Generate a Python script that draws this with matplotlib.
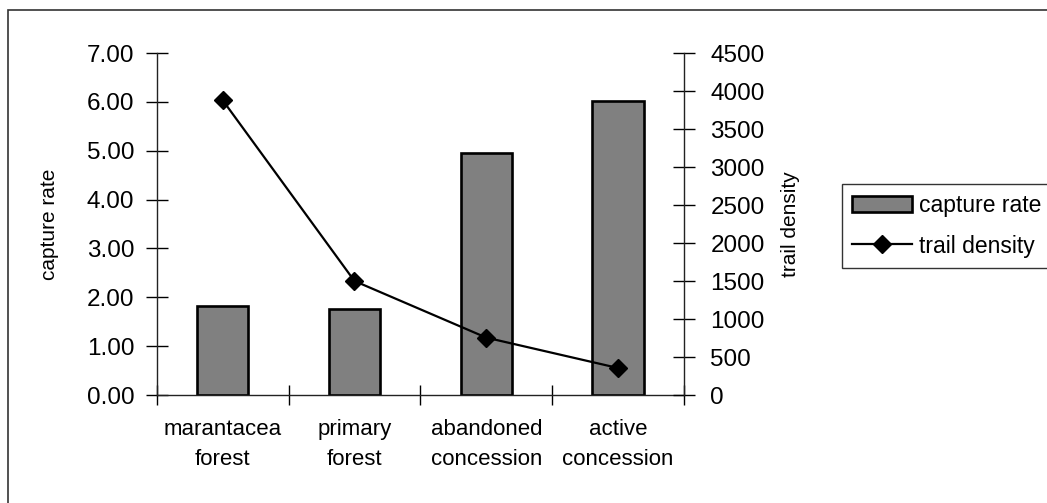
import numpy as np
import matplotlib.pyplot as plt
from matplotlib.patches import Rectangle, Patch
from matplotlib.lines import Line2D

plt.rcParams['font.family'] = ['Liberation Sans', 'DejaVu Sans']

# data
categories = ["marantacea\nforest", "primary\nforest", "abandoned\nconcession", "active\nconcession"]
capture_rate = [1.83, 1.76, 4.95, 6.01]
trail_density = [3880, 1500, 755, 355]
left_ticks = [0, 1, 2, 3, 4, 5, 6, 7]
right_ticks = [0, 500, 1000, 1500, 2000, 2500, 3000, 3500, 4000, 4500]

W, H = 1047, 503
fig = plt.figure(figsize=(W / 100, H / 100), dpi=100)

# outer frame (only left and top edges are inside the picture)
fig.patches.append(Rectangle((8 / W, -0.1), 1.2, 1.1 - 10 / H, transform=fig.transFigure,
                             fill=False, edgecolor='#333333', linewidth=1.2))

ax = fig.add_axes([156.7 / W, 1 - 395 / H, (684 - 156.7) / W, (395 - 53) / H])
ax2 = ax.twinx()

x = np.arange(len(categories))
ax.bar(x, capture_rate, width=0.39, color='#808080', edgecolor='black', linewidth=1.9, zorder=2)
ax.set_xlim(-0.5, len(categories) - 0.5)
ax.set_ylim(0, 7)
ax.set_yticks(left_ticks)
ax.set_yticklabels([f"{v:.2f}" for v in left_ticks], fontsize=17.5)
ax.set_ylabel("capture rate", fontsize=15, labelpad=20)

ax2.plot(x, trail_density, color='black', linewidth=1.6, marker='D', markersize=9,
         markerfacecolor='black', zorder=3)
ax2.set_ylim(0, 4500)
ax2.set_yticks(right_ticks)
ax2.set_yticklabels([str(v) for v in right_ticks], fontsize=17.5)
ax2.set_ylabel("trail density", fontsize=15, labelpad=12)

# category labels at centers, tick marks at boundaries
ax.set_xticks(x)
ax.set_xticklabels(categories, fontsize=16, linespacing=1.6)
ax.tick_params(axis='x', which='major', length=0, pad=17)
ax.set_xticks(np.arange(-0.5, len(categories)), minor=True)
ax.tick_params(axis='x', which='minor', direction='inout', length=14, width=1)

ax.tick_params(axis='y', direction='inout', length=16, width=1, pad=8)
ax2.tick_params(axis='y', direction='inout', length=16, width=1, pad=11)

for a in (ax, ax2):
    a.spines['top'].set_visible(False)
    for s in a.spines.values():
        s.set_linewidth(1)
        s.set_color('#222222')
ax.spines['right'].set_visible(False)
ax2.spines['left'].set_visible(False)
ax2.spines['bottom'].set_visible(False)
ax.set_zorder(ax2.get_zorder() - 1)
ax.patch.set_visible(False)

handles = [Patch(facecolor='#808080', edgecolor='black', linewidth=1.9),
           Line2D([], [], color='black', linewidth=1.6, marker='D', markersize=9)]
leg = fig.legend(handles, ["capture rate", "trail density"], loc='upper left',
                 bbox_to_anchor=(842 / W, 1 - 184 / H), fontsize=16.5, frameon=True,
                 fancybox=False, borderaxespad=0, handlelength=2.6, handletextpad=0.3,
                 labelspacing=0.75, borderpad=0.45)
leg.get_frame().set_edgecolor('black')
leg.get_frame().set_linewidth(1)

fig.savefig("out.png", dpi=100)
